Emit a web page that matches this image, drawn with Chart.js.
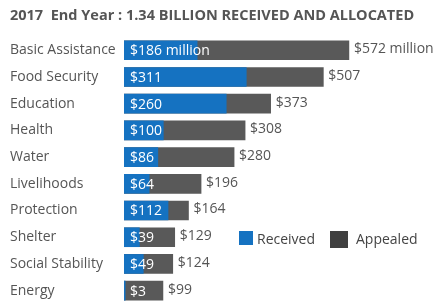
<!DOCTYPE html>
<html>
<head>
<meta charset="utf-8">
<script src="https://cdn.jsdelivr.net/npm/chart.js@4"></script>
<style>
  body { margin: 0; background: #fff; }
  #wrap { position: relative; width: 435px; height: 304px; }
  .key { position: absolute; font: 14px "Open Sans", sans-serif; color: #444; }
  .sq { position: absolute; }
</style>
</head>
<body>
<div id="wrap">
  <canvas id="fundChart" width="435" height="304"></canvas>
  <div class="sq" style="left:239px;top:231px;width:14px;height:14px;background:#1572c1"></div>
  <div class="key" style="left:257px;top:229px">Received</div>
  <div class="sq" style="left:330px;top:231px;width:18px;height:17px;background:#404040"></div>
  <div class="key" style="left:356px;top:229px">Appealed</div>
</div>
<script>
const sectors = ["Basic Assistance", "Food Security", "Education", "Health", "Water",
  "Livelihoods", "Protection", "Shelter", "Social Stability", "Energy"];
const received = [186, 311, 260, 100, 86, 64, 112, 39, 49, 3];
const appealed = [572, 507, 373, 308, 280, 196, 164, 129, 124, 99];

const textGray = "#555555";

// labels on bars: received inside (white), appealed after the end (gray)
const valueLabels = {
  id: "valueLabels",
  afterDatasetsDraw(chart) {
    const ctx = chart.ctx;
    ctx.save();
    ctx.font = "14px 'Open Sans', sans-serif";
    ctx.textBaseline = "middle";
    chart.getDatasetMeta(1).data.forEach((bar, i) => {
      const txt = "$" + appealed[i] + (i === 0 ? " million" : "");
      ctx.fillStyle = textGray;
      ctx.fillText(txt, bar.x + 5, bar.y - 1);
    });
    chart.getDatasetMeta(0).data.forEach((bar, i) => {
      const txt = "$" + received[i] + (i === 0 ? " million" : "");
      ctx.fillStyle = "#ffffff";
      ctx.fillText(txt, bar.base + 6, bar.y + 1);
    });
    ctx.restore();
  }
};

new Chart(document.getElementById("fundChart"), {
  type: "bar",
  data: {
    labels: sectors,
    datasets: [
      { label: "Received", data: received, backgroundColor: "#1572c1", order: 1 },
      { label: "Appealed", data: appealed, backgroundColor: "#595959", order: 2 }
    ]
  },
  options: {
    indexAxis: "y",
    responsive: false,
    animation: false,
    datasets: { bar: { grouped: false, barThickness: 19 } },
    layout: { padding: { left: 10, right: 0, top: 0, bottom: 0 } },
    scales: {
      x: { display: false, min: 0, max: 791 },
      y: {
        grid: { display: false },
        border: { display: false },
        ticks: { crossAlign: "far", color: textGray, font: { family: "Open Sans", size: 14 }, padding: 0 },
        afterFit(scale) {
          scale.width = 114;
          scale.paddingTop = 0;
          scale.paddingBottom = 0;
        }
      }
    },
    plugins: {
      legend: { display: false },
      tooltip: { enabled: false },
      title: {
        display: true,
        text: "2017  End Year : 1.34 BILLION RECEIVED AND ALLOCATED",
        align: "start",
        color: textGray,
        font: { family: "Open Sans", size: 14.5, weight: "bold" },
        padding: { top: 7, bottom: 12.5 }
      }
    }
  },
  plugins: [valueLabels]
});
</script>
</body>
</html>
